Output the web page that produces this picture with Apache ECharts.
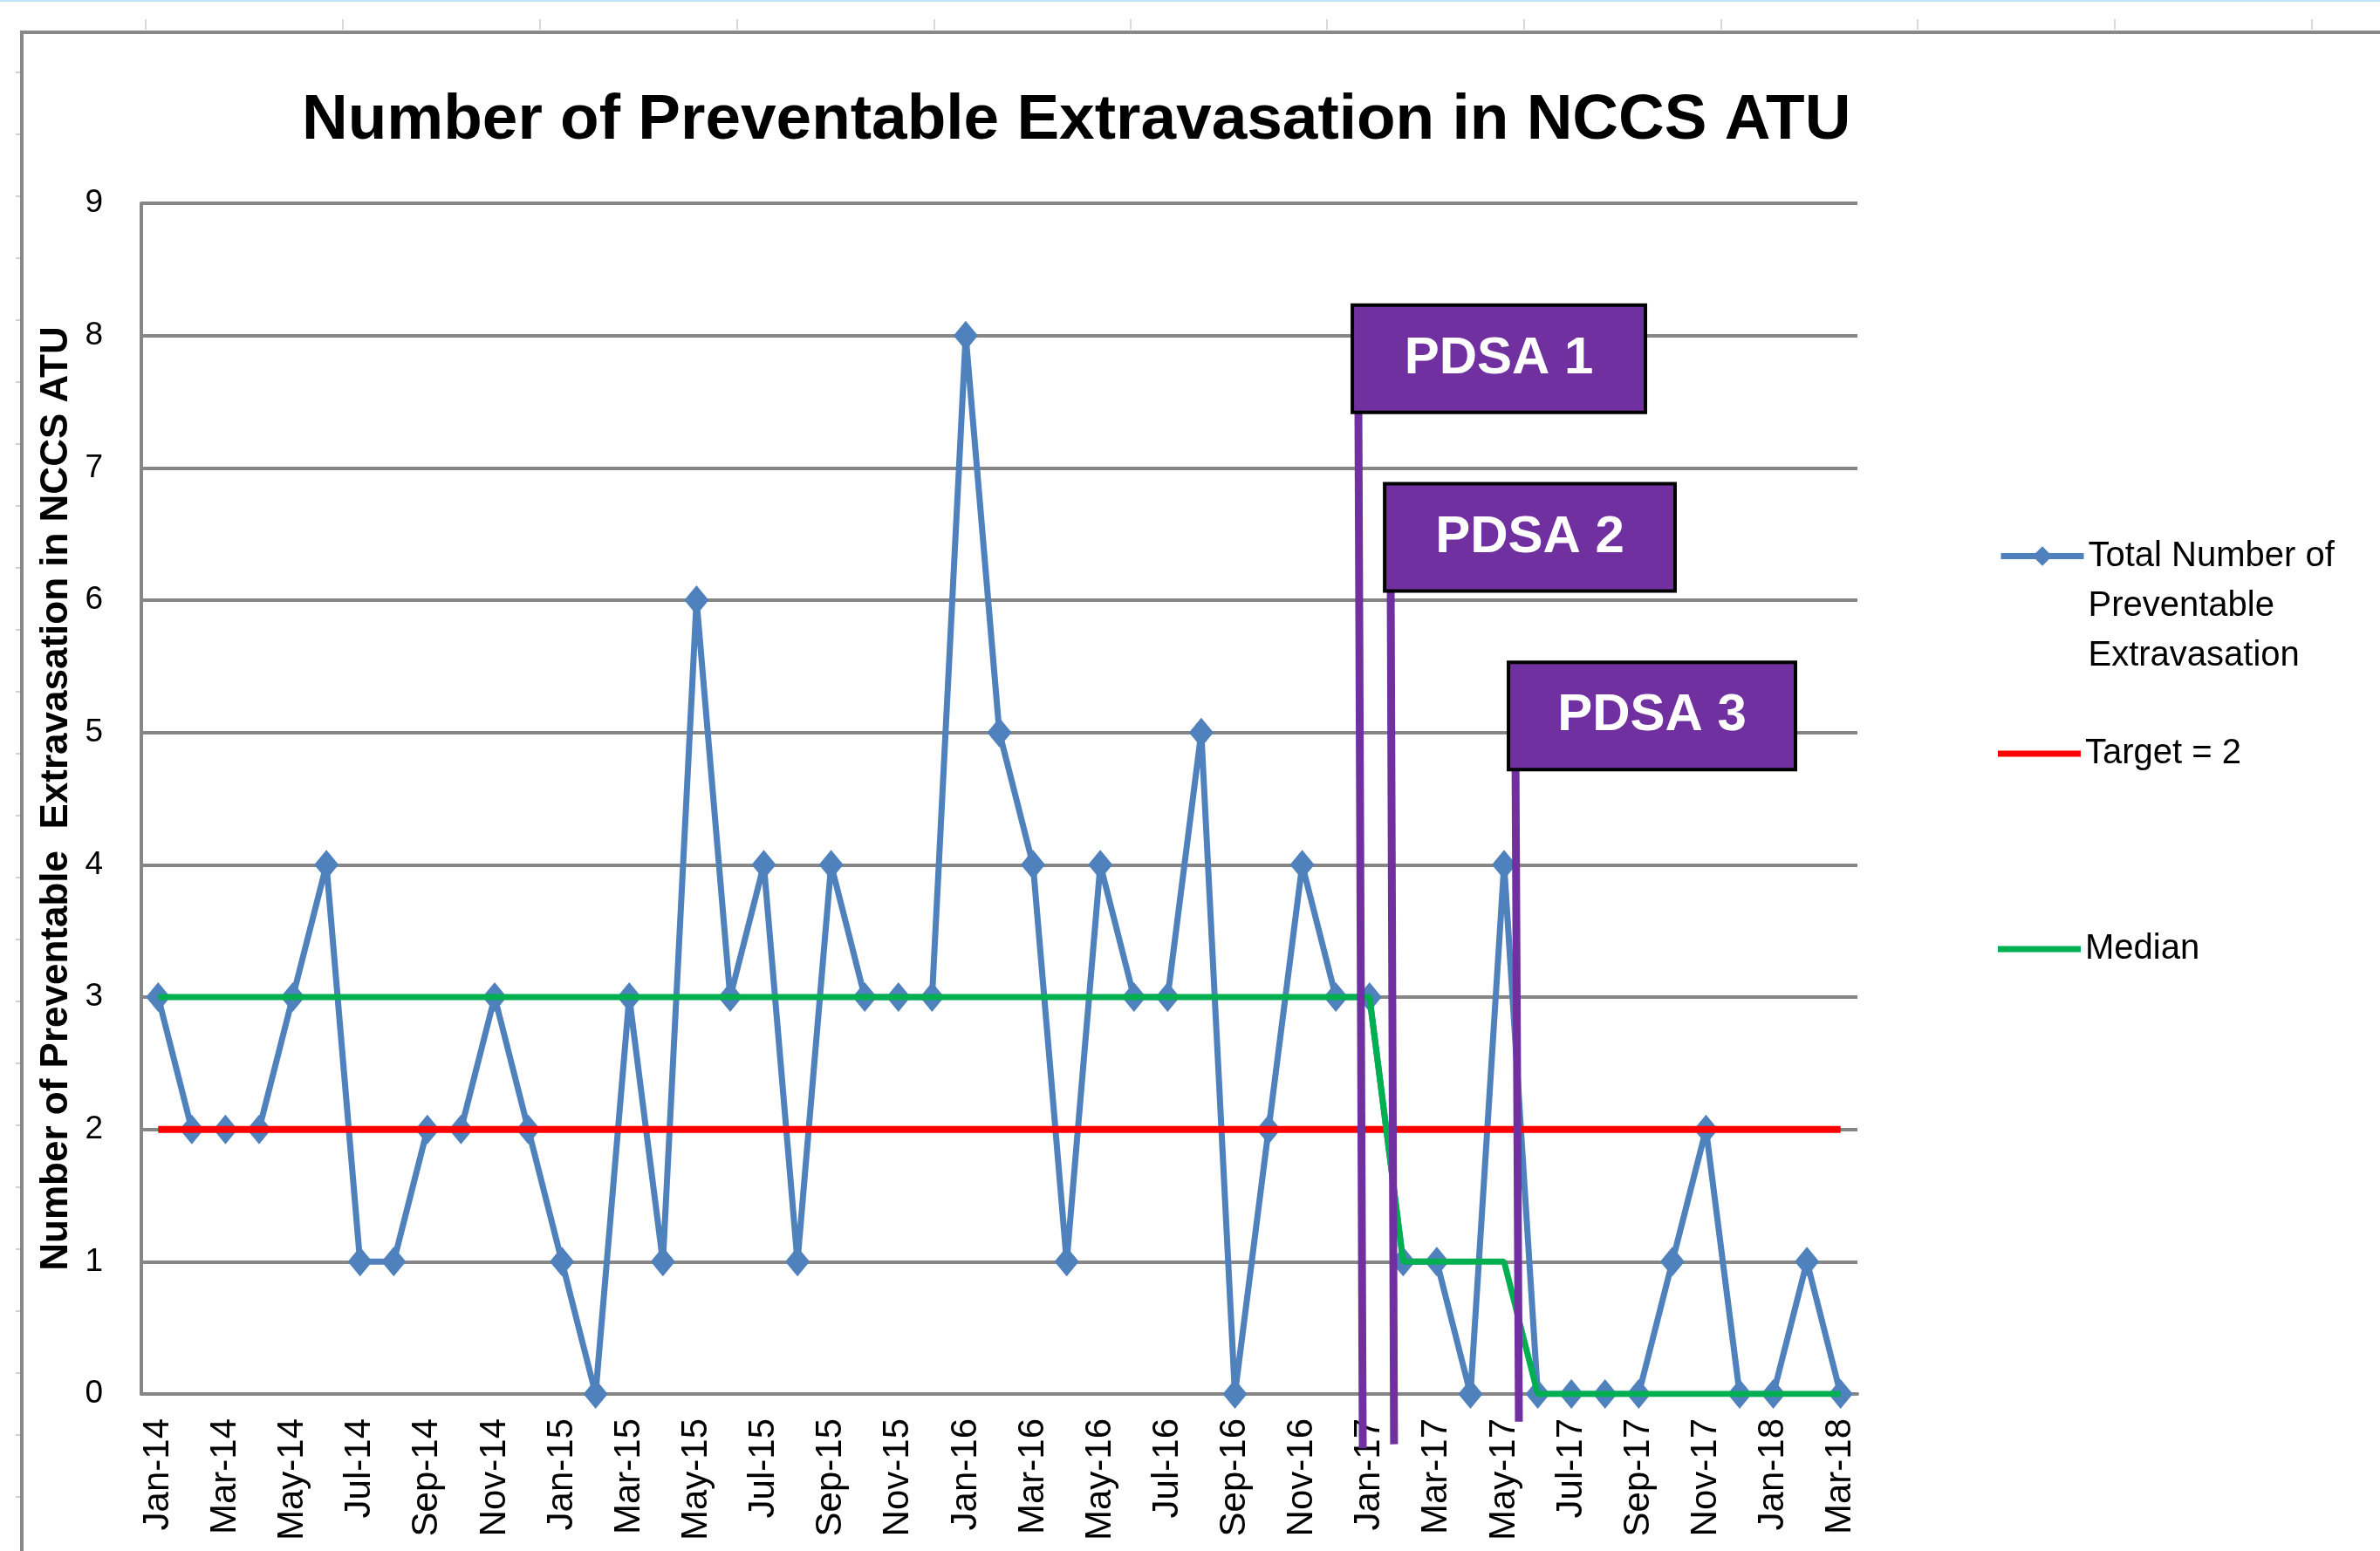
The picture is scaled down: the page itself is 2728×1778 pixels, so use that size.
<!DOCTYPE html>
<html>
<head>
<meta charset="utf-8">
<script src="https://cdn.jsdelivr.net/npm/echarts@6/dist/echarts.min.js"></script>
<style>
html,body{margin:0;padding:0;background:#ffffff;}
#chart{width:2728px;height:1778px;}
</style>
</head>
<body>
<div id="chart"></div>
<script>
// ---------- data ----------
const months = ['Jan-14','Feb-14','Mar-14','Apr-14','May-14','Jun-14','Jul-14','Aug-14','Sep-14','Oct-14','Nov-14','Dec-14',
  'Jan-15','Feb-15','Mar-15','Apr-15','May-15','Jun-15','Jul-15','Aug-15','Sep-15','Oct-15','Nov-15','Dec-15',
  'Jan-16','Feb-16','Mar-16','Apr-16','May-16','Jun-16','Jul-16','Aug-16','Sep-16','Oct-16','Nov-16','Dec-16',
  'Jan-17','Feb-17','Mar-17','Apr-17','May-17','Jun-17','Jul-17','Aug-17','Sep-17','Oct-17','Nov-17','Dec-17',
  'Jan-18','Feb-18','Mar-18'];
const totalValues = [3,2,2,2,3,4,1,1,2,2,3,2,
  1,0,3,1,6,3,4,1,4,3,3,3,
  8,5,4,1,4,3,3,5,0,2,4,3,
  3,1,1,0,4,0,0,0,0,1,2,0,
  0,1,0];
const targetValues = [2,2,2,2,2,2,2,2,2,2,2,2,
  2,2,2,2,2,2,2,2,2,2,2,2,
  2,2,2,2,2,2,2,2,2,2,2,2,
  2,2,2,2,2,2,2,2,2,2,2,2,
  2,2,2];
const medianValues = [3,3,3,3,3,3,3,3,3,3,3,3,
  3,3,3,3,3,3,3,3,3,3,3,3,
  3,3,3,3,3,3,3,3,3,3,3,3,
  3,1,1,1,1,0,0,0,0,0,0,0,
  0,0,0];
const seriesNames = ['Total Number of Preventable Extravasation', 'Target = 2', 'Median'];
const yTicks = [0,1,2,3,4,5,6,7,8,9];
const chartTitle = 'Number of Preventable Extravasation in NCCS ATU';
const yAxisTitle = 'Number of Preventable  Extravasation in NCCS ATU';

// PDSA annotations (in month-index / value units)
const pdsaLabels = ['PDSA 1', 'PDSA 2', 'PDSA 3'];
const pdsaLineTopX = [35.67, 36.63, 40.34];
const pdsaLineBottomX = [35.80, 36.73, 40.44];
const pdsaLineEndY = [-0.41, -0.38, -0.21];
const pdsaBoxLeftX = [35.49, 36.45, 40.13];
const pdsaBoxRightX = [44.20, 45.08, 48.66];
const pdsaBoxTopY = [8.23, 6.88, 5.53];
const pdsaBoxBottomY = [7.42, 6.07, 4.72];

// ---------- chart ----------
const FONT = 'Liberation Sans';
const W = 2728, H = 1778;
const gridLeft = 162, gridRight = 2129, gridTop = 233, gridBottom = 1598;

const chart = echarts.init(document.getElementById('chart'), null, {renderer: 'canvas', width: W, height: H});

const option = {
  animation: false,
  backgroundColor: '#ffffff',
  title: {
    text: chartTitle,
    left: 346, top: 102, padding: 0,
    textStyle: {fontFamily: FONT, fontWeight: 'bold', fontSize: 73, color: '#000000'}
  },
  grid: {
    left: gridLeft, right: W - gridRight, top: gridTop, bottom: H - gridBottom,
    containLabel: false, outerBoundsMode: 'none'
  },
  legend: [
    {
      data: [seriesNames[0]], orient: 'vertical', left: 2290, top: 495, padding: 0,
      itemWidth: 95, itemHeight: 28,
      lineStyle: {width: 7},
      formatter: function () { return '\n\nTotal Number of\nPreventable\nExtravasation'; },
      textStyle: {fontFamily: FONT, fontSize: 40, lineHeight: 57, color: '#000000'}
    },
    {
      data: [seriesNames[1]], orient: 'vertical', left: 2290, top: 844, padding: 0,
      itemWidth: 95, itemHeight: 7, icon: 'rect',
      textStyle: {fontFamily: FONT, fontSize: 40, lineHeight: 28, color: '#000000'}
    },
    {
      data: [seriesNames[2]], orient: 'vertical', left: 2290, top: 1068, padding: 0,
      itemWidth: 95, itemHeight: 7, icon: 'rect',
      textStyle: {fontFamily: FONT, fontSize: 40, lineHeight: 28, color: '#000000'}
    }
  ],
  xAxis: {
    type: 'category',
    data: months,
    boundaryGap: true,
    axisLine: {show: true, lineStyle: {color: '#868686', width: 4}},
    axisTick: {show: false},
    splitLine: {show: false},
    axisLabel: {
      interval: 1, rotate: 90, margin: 28,
      fontFamily: FONT, fontSize: 42, color: '#000000',
      hideOverlap: false
    }
  },
  yAxis: {
    type: 'value',
    min: yTicks[0], max: yTicks[yTicks.length - 1], interval: 1,
    axisLine: {show: true, lineStyle: {color: '#868686', width: 4}},
    axisTick: {show: false},
    splitLine: {show: true, lineStyle: {color: '#868686', width: 4}},
    axisLabel: {margin: 44, fontFamily: FONT, fontSize: 37, color: '#000000'},
    name: yAxisTitle,
    nameLocation: 'middle',
    nameGap: 70,
    nameTextStyle: {fontFamily: FONT, fontWeight: 'bold', fontSize: 44, color: '#000000'}
  },
  series: [
    {
      name: seriesNames[0], type: 'line', data: totalValues,
      symbol: 'diamond', symbolSize: [28, 34], showAllSymbol: true, showSymbol: true,
      itemStyle: {color: '#4F81BD'},
      lineStyle: {color: '#4F81BD', width: 7},
      z: 2
    },
    {
      name: seriesNames[1], type: 'line', data: targetValues,
      symbol: 'none',
      itemStyle: {color: '#FF0000'},
      lineStyle: {color: '#FF0000', width: 8},
      z: 3
    },
    {
      name: seriesNames[2], type: 'line', data: medianValues,
      symbol: 'none',
      itemStyle: {color: '#00B050'},
      lineStyle: {color: '#00B050', width: 7},
      z: 4
    }
  ]
};
chart.setOption(option);

// ---------- annotations placed through the axes ----------
function xPix(f) {
  const i = Math.floor(f);
  const a = chart.convertToPixel({xAxisIndex: 0}, i);
  const b = chart.convertToPixel({xAxisIndex: 0}, i + 1);
  return a + (b - a) * (f - i);
}
function yPix(v) { return chart.convertToPixel({yAxisIndex: 0}, v); }

const graphics = [];
// sheet decorations
graphics.push({type: 'rect', shape: {x: 0, y: 0, width: W, height: 2}, style: {fill: '#BFE4FB'}, z: 0, silent: true});
graphics.push({type: 'rect', shape: {x: 25, y: 37, width: W + 100, height: H + 100}, style: {fill: 'none', stroke: '#888888', lineWidth: 4}, z: 0, silent: true});
[167, 393, 619, 845, 1071, 1296, 1521, 1747, 1973, 2198, 2424, 2650].forEach(function (x) {
  graphics.push({type: 'line', shape: {x1: x, y1: 22, x2: x, y2: 34}, style: {stroke: '#D9D9D9', lineWidth: 2}, z: 0, silent: true});
});
for (let y = 83; y < H; y += 71) {
  graphics.push({type: 'line', shape: {x1: 18, y1: y, x2: 23, y2: y}, style: {stroke: '#D0D0D0', lineWidth: 2}, z: 0, silent: true});
}

for (let k = 0; k < pdsaLabels.length; k++) {
  const bx0 = xPix(pdsaBoxLeftX[k]), bx1 = xPix(pdsaBoxRightX[k]);
  const by0 = yPix(pdsaBoxTopY[k]), by1 = yPix(pdsaBoxBottomY[k]);
  graphics.push({
    type: 'line', z: 100,
    shape: {x1: xPix(pdsaLineTopX[k]), y1: by1, x2: xPix(pdsaLineBottomX[k]), y2: yPix(pdsaLineEndY[k])},
    style: {stroke: '#7030A0', lineWidth: 9}
  });
  graphics.push({
    type: 'rect', z: 101,
    shape: {x: bx0, y: by0, width: bx1 - bx0, height: by1 - by0},
    style: {fill: '#7030A0', stroke: '#000000', lineWidth: 4}
  });
  graphics.push({
    type: 'text', z: 102,
    x: (bx0 + bx1) / 2, y: (by0 + by1) / 2,
    style: {text: pdsaLabels[k], fill: '#ffffff', fontFamily: FONT, fontWeight: 'bold', fontSize: 60, align: 'center', verticalAlign: 'middle'}
  });
}
chart.setOption({graphic: graphics});
</script>
</body>
</html>
